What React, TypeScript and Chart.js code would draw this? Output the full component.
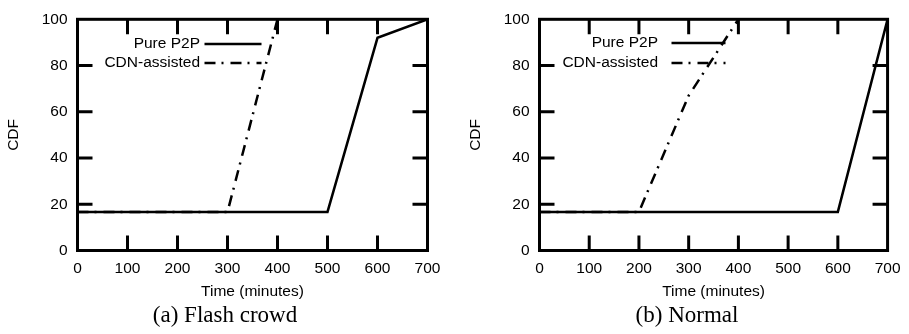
import React, { useEffect, useRef } from "react";
import { Chart, registerables } from "chart.js";

Chart.register(...registerables);

// ---- data ----
const xTickValues = [0, 100, 200, 300, 400, 500, 600, 700];
const yTickValues = [0, 20, 40, 60, 80, 100];
const seriesLabels = ["Pure P2P", "CDN-assisted"];

const flashP2PX = [0, 500, 600, 700];
const flashP2PY = [16.7, 16.7, 92, 100];
const flashCdnX = [0, 300, 400];
const flashCdnY = [16.7, 16.7, 100];

const normalP2PX = [0, 600, 700];
const normalP2PY = [16.7, 16.7, 100];
const normalCdnX = [0, 200, 300, 400];
const normalCdnY = [16.7, 16.7, 67, 100];

const captions = ["(a) Flash crowd", "(b) Normal"];
const xTitle = "Time (minutes)";
const yTitle = "CDF";

const SANS = "'Liberation Sans', Arial, Helvetica, sans-serif";
const SERIF = "'Liberation Serif', 'Times New Roman', serif";
const CANVAS_H = 334;
const FONT_SIZE = 15.5;

type PanelCfg = {
  left: number;
  width: number;
  top: number;
  right: number; // chart area right edge (canvas coords)
  bottom: number;
  legendTextRight: number; // relative to chart area left
  legendLineStart: number;
  legendLineEnd: number;
  legendRows: number[];
  captionCenter: number; // page coords
};

const zip = (xs: number[], ys: number[]) => xs.map((x, i) => ({ x, y: ys[i] }));

const framePlugin = {
  id: "gnuplotFrame",
  afterDatasetsDraw(chart: any, _args: any, opts: any) {
    const { ctx, chartArea: a, scales } = chart;
    const xs = scales.x;
    const ys = scales.y;
    ctx.save();
    ctx.strokeStyle = "#000";
    ctx.lineCap = "butt";
    // inner ticks (mirrored)
    ctx.lineWidth = 3;
    ctx.beginPath();
    const L = 15;
    xs.ticks.forEach((t: any) => {
      if (t.value <= xs.min || t.value >= xs.max) return;
      const px = xs.getPixelForValue(t.value);
      ctx.moveTo(px, a.bottom);
      ctx.lineTo(px, a.bottom - L);
      ctx.moveTo(px, a.top);
      ctx.lineTo(px, a.top + L);
    });
    ys.ticks.forEach((t: any) => {
      if (t.value <= ys.min || t.value >= ys.max) return;
      const py = ys.getPixelForValue(t.value);
      ctx.moveTo(a.left, py);
      ctx.lineTo(a.left + L, py);
      ctx.moveTo(a.right, py);
      ctx.lineTo(a.right - L, py);
    });
    ctx.stroke();
    // frame
    ctx.strokeRect(a.left, a.top, a.right - a.left, a.bottom - a.top);

    // legend (gnuplot style: text right-aligned, sample on the right)
    ctx.font = `${FONT_SIZE}px ${SANS}`;
    ctx.fillStyle = "#000";
    ctx.textAlign = "right";
    ctx.textBaseline = "middle";
    chart.data.datasets.forEach((ds: any, i: number) => {
      const y = opts.rows[i];
      ctx.fillText(ds.label, a.left + opts.textRight, y);
      ctx.save();
      ctx.lineWidth = ds.borderWidth;
      ctx.setLineDash(ds.borderDash || []);
      ctx.beginPath();
      ctx.moveTo(a.left + opts.lineStart, y);
      ctx.lineTo(a.left + opts.lineEnd, y);
      ctx.stroke();
      ctx.restore();
    });
    ctx.restore();
  },
};

function Panel({
  cfg,
  p2p,
  cdn,
}: {
  cfg: PanelCfg;
  p2p: { x: number; y: number }[];
  cdn: { x: number; y: number }[];
}) {
  const ref = useRef<HTMLCanvasElement | null>(null);

  useEffect(() => {
    if (!ref.current) return;
    const font = { family: SANS, size: FONT_SIZE };
    const chart = new Chart(ref.current, {
      type: "line",
      data: {
        datasets: [
          {
            label: seriesLabels[0],
            data: p2p,
            borderColor: "#000",
            borderWidth: 2.5,
            pointRadius: 0,
            tension: 0,
            fill: false,
          },
          {
            label: seriesLabels[1],
            data: cdn,
            borderColor: "#000",
            borderWidth: 2.5,
            borderDash: [11, 6, 2, 7],
            pointRadius: 0,
            tension: 0,
            fill: false,
          },
        ],
      },
      options: {
        animation: false,
        responsive: false,
        layout: {
          padding: { top: cfg.top, right: cfg.width - cfg.right, left: 0, bottom: 0 },
        },
        plugins: {
          legend: { display: false },
          tooltip: { enabled: false },
          gnuplotFrame: {
            textRight: cfg.legendTextRight,
            lineStart: cfg.legendLineStart,
            lineEnd: cfg.legendLineEnd,
            rows: cfg.legendRows,
          },
        } as any,
        scales: {
          x: {
            type: "linear",
            min: 0,
            max: 700,
            afterBuildTicks: (s: any) => {
              s.ticks = xTickValues.map((v) => ({ value: v }));
            },
            afterFit: (s: any) => {
              s.height = CANVAS_H - cfg.bottom;
            },
            grid: { display: false, drawTicks: false },
            border: { display: false },
            ticks: {
              color: "#000",
              font,
              padding: 8.5,
              maxRotation: 0,
              autoSkip: false,
            },
            title: {
              display: true,
              text: xTitle,
              color: "#000",
              font,
              padding: { top: 0, bottom: 33 },
            },
          },
          y: {
            type: "linear",
            min: 0,
            max: 100,
            afterBuildTicks: (s: any) => {
              s.ticks = yTickValues.map((v) => ({ value: v }));
            },
            afterFit: (s: any) => {
              s.width = 77.5;
            },
            grid: { display: false, drawTicks: false },
            border: { display: false },
            ticks: { color: "#000", font, padding: 10 },
            title: {
              display: true,
              text: yTitle,
              color: "#000",
              font,
              padding: { top: 4, bottom: 0 },
            },
          },
        },
      } as any,
      plugins: [framePlugin as any],
    });
    return () => chart.destroy();
  }, [cfg, p2p, cdn]);

  return (
    <canvas
      ref={ref}
      width={cfg.width}
      height={CANVAS_H}
      style={{ position: "absolute", left: cfg.left, top: 0, width: cfg.width, height: CANVAS_H }}
    />
  );
}

const leftCfg: PanelCfg = {
  left: 0,
  width: 455,
  top: 16.5,
  right: 427.5,
  bottom: 250.5,
  legendTextRight: 122.5,
  legendLineStart: 127,
  legendLineEnd: 184,
  legendRows: [44, 63],
  captionCenter: 225,
};

const rightCfg: PanelCfg = {
  left: 462,
  width: 447,
  top: 15.5,
  right: 426,
  bottom: 250.5,
  legendTextRight: 118.5,
  legendLineStart: 132,
  legendLineEnd: 186,
  legendRows: [43, 63],
  captionCenter: 687,
};

const flashP2P = zip(flashP2PX, flashP2PY);
const flashCdn = zip(flashCdnX, flashCdnY);
const normalP2P = zip(normalP2PX, normalP2PY);
const normalCdn = zip(normalCdnX, normalCdnY);

export default function App() {
  const capStyle = (center: number): React.CSSProperties => ({
    position: "absolute",
    left: center - 150,
    width: 300,
    top: 302.75,
    textAlign: "center",
    fontFamily: SERIF,
    fontSize: 23,
    lineHeight: "23px",
    color: "#000",
    whiteSpace: "nowrap",
  });
  return (
    <div style={{ position: "absolute", left: 0, top: 0, width: 909, height: 334, background: "#fff", overflow: "hidden" }}>
      <Panel cfg={leftCfg} p2p={flashP2P} cdn={flashCdn} />
      <Panel cfg={rightCfg} p2p={normalP2P} cdn={normalCdn} />
      <div style={capStyle(leftCfg.captionCenter)}>{captions[0]}</div>
      <div style={capStyle(rightCfg.captionCenter)}>{captions[1]}</div>
    </div>
  );
}
